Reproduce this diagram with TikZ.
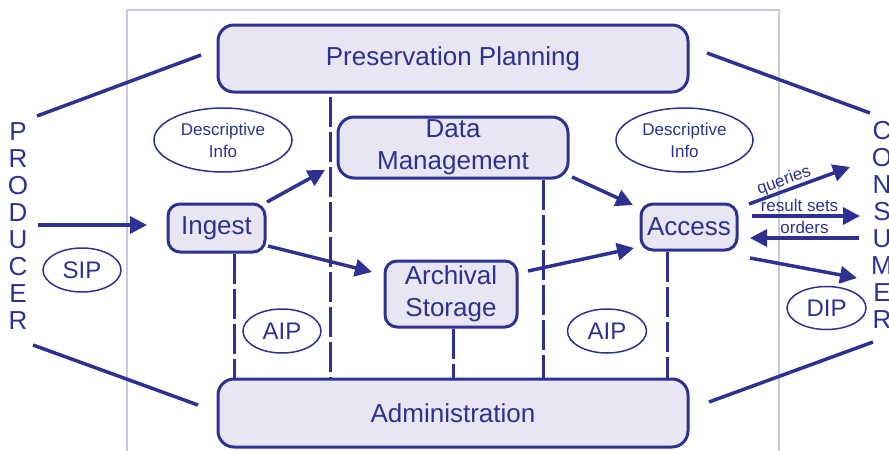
\documentclass[tikz,border=0pt]{standalone}
\usepackage{fontspec}
\setmainfont{Liberation Sans}
\usetikzlibrary{arrows.meta,shapes.geometric}
\definecolor{oblue}{RGB}{46,49,146}
\definecolor{ofill}{RGB}{231,230,242}
\definecolor{oframe}{RGB}{200,200,228}
\begin{document}
\begin{tikzpicture}[x=1pt,y=-1pt,
  box/.style={draw=oblue, fill=ofill, line width=3pt, rounded corners=16pt, text=oblue,
    font=\fontsize{26}{31.5}\selectfont, align=center, inner sep=0pt},
  smallbox/.style={box, rounded corners=12pt},
  bubble/.style={ellipse, draw=oblue, line width=1.5pt, text=oblue, inner sep=0pt, align=center},
  infotext/.style={font=\fontsize{17}{22}\selectfont},
  pkgtext/.style={font=\fontsize{24}{28}\selectfont},
  flow/.style={draw=oblue, line width=3.5pt, -{Triangle[length=17pt,width=17pt]}},
  link/.style={draw=oblue, line width=3.5pt},
  dashline/.style={draw=oblue, line width=3pt, dash pattern=on 30pt off 5pt},
  lbl/.style={text=oblue, font=\fontsize{17}{20}\selectfont, inner sep=0pt},
  letters/.style={text=oblue, font=\fontsize{26}{27}\selectfont, align=center, inner sep=0pt}
]
\useasboundingbox (0,0) rectangle (889,450);
% outer frame
\draw[oframe, line width=1.5pt] (127,470) -- (127,10) -- (779,10) -- (779,470);

% functional entities
\node[box, minimum width=470pt, minimum height=67pt] (pp) at (453,58.5) {Preservation Planning};
\node[box, minimum width=470pt, minimum height=68pt] (adm) at (453,413) {Administration};
\node[box, minimum width=230pt, minimum height=61pt] (dm) at (453,147.5) {Data\\Management};
\node[smallbox, minimum width=97pt, minimum height=48pt] (ing) at (216.5,228) {Ingest};
\node[smallbox, minimum width=132pt, minimum height=66pt] (arch) at (451,294) {Archival\\Storage};
\node[smallbox, minimum width=96pt, minimum height=46pt] (acc) at (689,227) {Access};

% ellipses
\node[bubble, infotext, minimum width=138pt, minimum height=64pt] (di1) at (223,140) {Descriptive\\Info};
\node[bubble, infotext, minimum width=137pt, minimum height=64pt] (di2) at (684.5,140) {Descriptive\\Info};
\node[bubble, pkgtext, minimum width=78pt, minimum height=44pt] (sip) at (82,270) {SIP};
\node[bubble, pkgtext, minimum width=78pt, minimum height=44pt] (aip1) at (282,331) {AIP};
\node[bubble, pkgtext, minimum width=79pt, minimum height=44pt] (aip2) at (607,331) {AIP};
\node[bubble, pkgtext, minimum width=79pt, minimum height=43pt] (dip) at (826.5,308) {DIP};

% producer / consumer
\node[letters] (prod) at (18,226.5) {P\\R\\O\\D\\U\\C\\E\\R};
\node[letters] (cons) at (882,224.5) {C\\O\\N\\S\\U\\M\\E\\R};

% dashed connections
\coordinate (v1) at (330,97);
\coordinate (v2) at (234,0);
\coordinate (v4) at (543,0);
\coordinate (v5) at (667,0);
\draw[dashline] (v1) -- (v1 |- adm.north);
\draw[dashline] (ing.south -| v2) -- (adm.north -| v2);
\draw[dashline] (arch.south -| 453,0) -- (adm.north -| 453,0);
\draw[dashline] (dm.south -| v4) -- (adm.north -| v4);
\draw[dashline] (acc.south -| v5) -- (adm.north -| v5);

% producer / consumer links
\coordinate (pa) at (37,116);   \coordinate (pb) at (201,55);
\coordinate (pc) at (33,345);   \coordinate (pd) at (198,405);
\coordinate (ca) at (870,113);  \coordinate (cb) at (707,53);
\coordinate (cc) at (873,342);  \coordinate (cd) at (709,402);
\draw[link] (pa) -- (pb);
\draw[link] (pc) -- (pd);
\draw[link] (ca) -- (cb);
\draw[link] (cc) -- (cd);

% flows
\coordinate (s0) at (38,225);   \coordinate (s1) at (147,225);
\draw[flow] (s0) -- (s1);
\coordinate (i1) at (267,202);  \coordinate (i2) at (325,170);
\draw[flow] (i1) -- (i2);
\coordinate (i3) at (268,246);  \coordinate (i4) at (372,272);
\draw[flow] (i3) -- (i4);
\coordinate (d1) at (572,177);  \coordinate (d2) at (633,205);
\draw[flow] (d1) -- (d2);
\coordinate (a1) at (528,271);  \coordinate (a2) at (634,248);
\draw[flow] (a1) -- (a2);
\coordinate (q1) at (749,204);  \coordinate (q2) at (850,167);
\draw[flow] (q1) -- node[lbl, sloped, above=0pt, pos=0.38] {queries} (q2);
\coordinate (r1) at (752,216);  \coordinate (r2) at (860,216);
\draw[flow] (r1) -- node[lbl, above=3pt, pos=0.44] {result sets} (r2);
\coordinate (o1) at (859,238);  \coordinate (o2) at (750,238);
\draw[flow] (o1) -- node[lbl, above=3pt, pos=0.5] {orders} (o2);
\coordinate (x1) at (750,258);  \coordinate (x2) at (857,278);
\draw[flow] (x1) -- (x2);
\end{tikzpicture}
\end{document}
